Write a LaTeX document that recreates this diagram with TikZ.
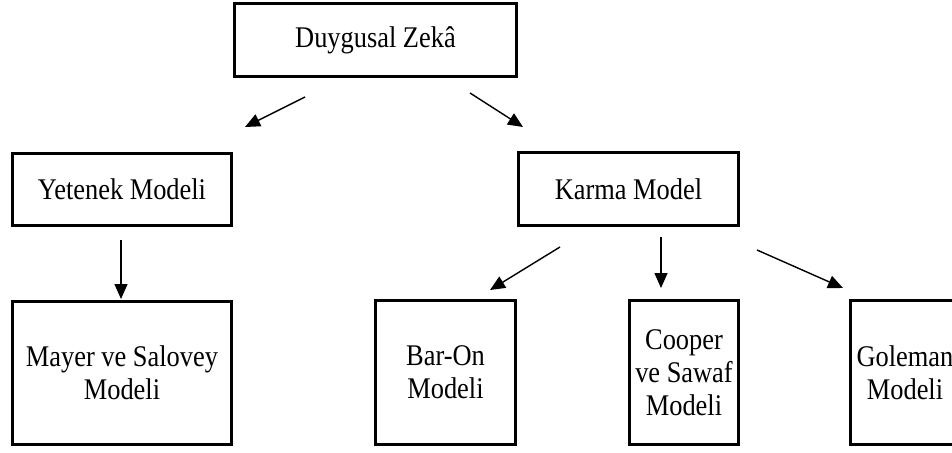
\documentclass[tikz,border=0pt]{standalone}
\usepackage{fontspec}
\setmainfont{Liberation Serif}[FakeStretch=0.88]
\usetikzlibrary{arrows.meta}
\begin{document}
\begin{tikzpicture}[x=1pt,y=-1pt,
  box/.style={draw,line width=3.8pt,inner sep=0pt,align=center,
    font=\fontsize{30}{33}\selectfont},
  arr/.style={line width=1.4pt,-{Triangle[length=15pt,width=13pt]}}]
\useasboundingbox (0,0) rectangle (952,452);
\clip (0,0) rectangle (952,452);
\fill[white] (0,0) rectangle (952,452);

% boxes
\node[box,minimum width=282pt,minimum height=73pt] (dz) at (375.5,40) {Duygusal Zekâ};
\node[box,minimum width=219pt,minimum height=72pt] (ym) at (122,189.5) {Yetenek Modeli};
\node[box,minimum width=220pt,minimum height=73pt] (km) at (628.5,189) {Karma Model};
\node[box,minimum width=219pt,minimum height=143pt] (ms) at (122,373) {Mayer ve Salovey\\Modeli};
\node[box,minimum width=140pt,minimum height=144pt] (bo) at (445.5,372.5) {Bar-On\\Modeli};
\node[box,minimum width=109pt,minimum height=144pt] (cs) at (684,372.5) {Cooper\\ve Sawaf\\Modeli};
\node[box,minimum width=109pt,minimum height=144pt] (gm) at (905,372.5) {Goleman\\Modeli};

% arrow end points
\coordinate (a1s) at (305,97);  \coordinate (a1e) at (245,127);
\coordinate (a2s) at (470,93);  \coordinate (a2e) at (523,127);
\coordinate (a3s) at (121,240); \coordinate (a3e) at (121,299);
\coordinate (a4s) at (560,247); \coordinate (a4e) at (490,290);
\coordinate (a5s) at (661,237); \coordinate (a5e) at (661,288);
\coordinate (a6s) at (757,250); \coordinate (a6e) at (843,288);

\draw[arr] (a1s) -- (a1e);
\draw[arr] (a2s) -- (a2e);
\draw[arr] (a3s) -- (a3e);
\draw[arr] (a4s) -- (a4e);
\draw[arr] (a5s) -- (a5e);
\draw[arr] (a6s) -- (a6e);
\end{tikzpicture}
\end{document}
